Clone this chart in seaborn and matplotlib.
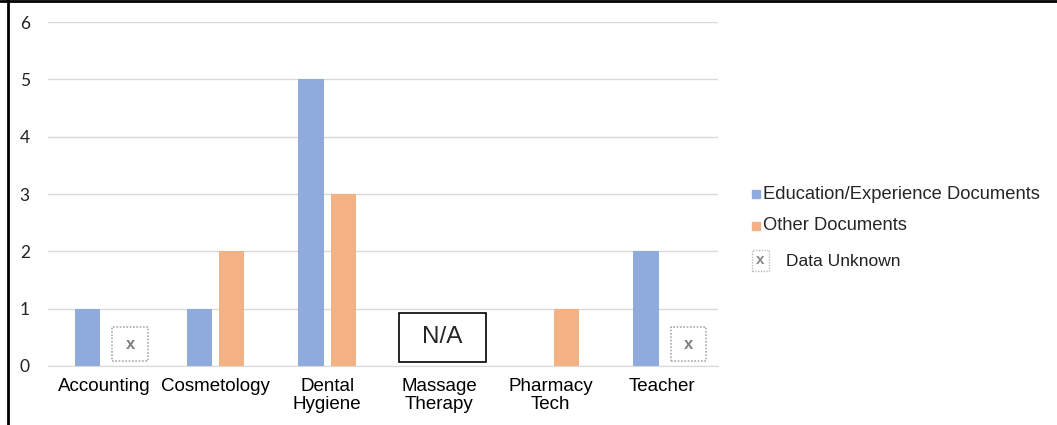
import numpy as np
import pandas as pd
import matplotlib.pyplot as plt
import seaborn as sns
from matplotlib.patches import Rectangle
from matplotlib.lines import Line2D

# chart data
careers = ["Accounting", "Cosmetology", "Dental\nHygiene", "Massage\nTherapy", "Pharmacy\nTech", "Teacher"]
education_docs = [1, 1, 5, np.nan, np.nan, 2]
other_docs = [np.nan, 2, 3, np.nan, 1, np.nan]
series_names = ["Education/Experience Documents", "Other Documents"]
colors = ["#8FAADC", "#F4B183"]
unknown_cells = [("Accounting", "Other Documents"), ("Teacher", "Other Documents")]
not_applicable = ["Massage\nTherapy"]
y_ticks = [0, 1, 2, 3, 4, 5, 6]

df = pd.DataFrame({
    "career": careers * 2,
    "series": [series_names[0]] * len(careers) + [series_names[1]] * len(careers),
    "count": education_docs + other_docs,
}).dropna()

sns.set_style("white")
plt.rcParams["font.family"] = ["Liberation Sans", "DejaVu Sans"]

fig = plt.figure(figsize=(10.57, 4.25), dpi=100)
ax = fig.add_axes([0.0454, 0.139, 0.634, 0.809])

sns.barplot(data=df, x="career", y="count", hue="series", order=careers,
            hue_order=series_names, palette=colors, width=0.58, gap=0.22,
            linewidth=0, saturation=1, legend=False, ax=ax)

ax.set_xlim(-0.5, len(careers) - 0.5)
ax.set_ylim(0, 6)
ax.set_yticks(y_ticks)
ax.set_xlabel("")
ax.set_ylabel("")
ax.grid(axis="y", color="#d9d9d9", lw=1)
ax.set_axisbelow(True)
for s in ["top", "right", "left"]:
    ax.spines[s].set_visible(False)
ax.spines["bottom"].set_color("#d9d9d9")
ax.tick_params(axis="both", length=0)
ax.tick_params(axis="x", pad=9, labelsize=13.5, labelcolor="black")
ax.tick_params(axis="y", pad=13, labelsize=12.5, labelcolor="#222222")
for lbl in ax.get_yticklabels():
    lbl.set_family(["Lato", "DejaVu Sans"])
for lbl in ax.get_xticklabels():
    lbl.set_linespacing(1.05)

# data unknown markers
for career, series in unknown_cells:
    xc = careers.index(career) + 0.235
    ax.add_patch(Rectangle((xc - 0.16, 0.08), 0.32, 0.6, fill=False,
                           edgecolor="#aaaaaa", lw=1.2, ls=(0, (1, 1))))
    ax.text(xc, 0.38, "x", ha="center", va="center", fontsize=12,
            fontweight="bold", color="#808080")

# N/A boxes
for career in not_applicable:
    xc = careers.index(career) + 0.03
    ax.add_patch(Rectangle((xc - 0.39, 0.07), 0.78, 0.855, fill=False,
                           edgecolor="black", lw=1.2))
    ax.text(xc, 0.5, "N/A", ha="center", va="center", fontsize=17.5)

# legend drawn at the right
W, H = 1057, 425
for i, (name, col) in enumerate(zip(series_names, colors)):
    yc = 194 + i * 32
    fig.patches.append(Rectangle((752 / W, 1 - (yc + 4) / H), 8 / W, 8 / H,
                                 transform=fig.transFigure, color=col))
    fig.text(763 / W, 1 - yc / H, name, va="center", ha="left", fontsize=13.2)
fig.patches.append(Rectangle((752 / W, 1 - 271 / H), 17 / W, 21 / H, fill=False,
                             transform=fig.transFigure, edgecolor="#bbbbbb",
                             lw=1.0, ls=(0, (1, 1))))
fig.text(760.5 / W, 1 - 260 / H, "x", va="center", ha="center", fontsize=11,
         fontweight="bold", color="#888888")
fig.text(786 / W, 1 - 261 / H, "Data Unknown", va="center", ha="left",
         fontsize=12.5, color="#222222")

# outer frame (top and left edges)
fig.add_artist(Line2D([0, 1], [0.998, 0.998], transform=fig.transFigure, color="black", lw=2))
fig.add_artist(Line2D([0.0075, 0.0075], [0, 1], transform=fig.transFigure, color="black", lw=2))

fig.savefig("out.png", dpi=100)
